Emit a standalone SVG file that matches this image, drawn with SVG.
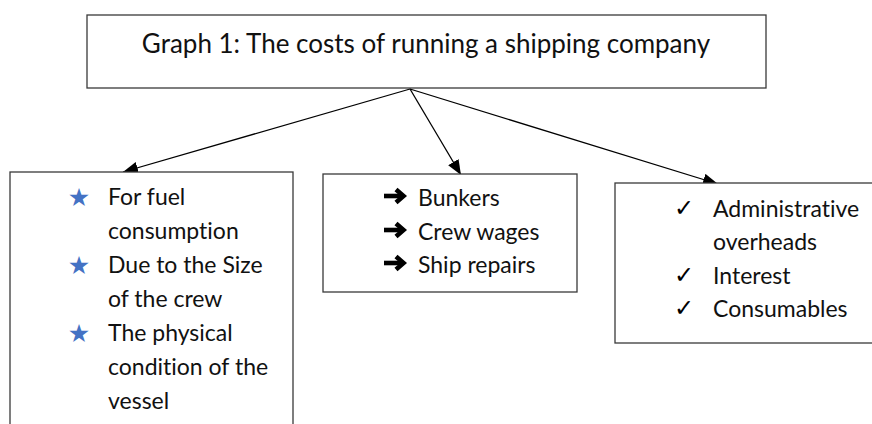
<svg xmlns="http://www.w3.org/2000/svg" width="872" height="424" viewBox="0 0 872 424">
  <style>
    .box { fill: #ffffff; stroke: #3a3a3a; stroke-width: 1.3; }
    .lbl { font-family: Lato, "Liberation Sans", sans-serif; font-size: 23px; fill: #111111; font-variant-ligatures: none; }
    .title { font-family: Lato, "Liberation Sans", sans-serif; font-size: 26px; fill: #111111; font-variant-ligatures: none; }
    .star { font-family: "DejaVu Sans", sans-serif; font-size: 25px; fill: #4472c4; }
    .chk { font-family: "DejaVu Sans", sans-serif; font-size: 24px; fill: #000000; font-weight: bold; }
    .edge { stroke: #000000; stroke-width: 1.3; fill: none; marker-end: url(#head); }
  </style>
  <defs>
    <marker id="head" markerUnits="userSpaceOnUse" markerWidth="16" markerHeight="12" refX="15" refY="6" orient="auto">
      <path d="M0,0 L15,6 L0,12 Z" fill="#000000"/>
    </marker>
    <!-- heavy right-pointing bullet arrow, origin at the left end of the shaft -->
    <g id="bullet-arrow" fill="none" stroke="#000000" stroke-width="4.6">
      <path d="M0,0 H19"/>
      <path d="M12,-6.5 L19.5,0 L12,6.5" stroke-linejoin="miter"/>
    </g>
  </defs>
  <rect width="872" height="424" fill="#ffffff"/>

  <g id="root">
    <rect class="box" x="87" y="15" width="679" height="73"/>
    <text class="title" x="426" y="53" text-anchor="middle">Graph 1: The costs of running a shipping company</text>
  </g>

  <g id="connectors">
    <line class="edge" x1="410" y1="89" x2="123" y2="172"/>
    <line class="edge" x1="410" y1="89" x2="461" y2="175"/>
    <line class="edge" x1="410" y1="89" x2="718" y2="184"/>
  </g>

  <g id="factors">
    <rect class="box" x="10" y="172" width="283" height="260"/>
    <text class="star" x="79" y="206" text-anchor="middle">★</text>
    <text class="star" x="79" y="274" text-anchor="middle">★</text>
    <text class="star" x="79" y="342" text-anchor="middle">★</text>
    <text class="lbl" x="108" y="205">For fuel</text>
    <text class="lbl" x="108" y="239">consumption</text>
    <text class="lbl" x="108" y="273">Due to the Size</text>
    <text class="lbl" x="108" y="307">of the crew</text>
    <text class="lbl" x="108" y="341">The physical</text>
    <text class="lbl" x="108" y="375">condition of the</text>
    <text class="lbl" x="108" y="409">vessel</text>
  </g>

  <g id="voyage-costs">
    <rect class="box" x="323" y="174" width="254" height="118"/>
    <use href="#bullet-arrow" x="384" y="196"/>
    <use href="#bullet-arrow" x="384" y="230"/>
    <use href="#bullet-arrow" x="384" y="263"/>
    <text class="lbl" x="418" y="206">Bunkers</text>
    <text class="lbl" x="418" y="240">Crew wages</text>
    <text class="lbl" x="418" y="273">Ship repairs</text>
  </g>

  <g id="fixed-costs">
    <rect class="box" x="615" y="183" width="262" height="160"/>
    <text class="chk" x="684" y="216" text-anchor="middle">✓</text>
    <text class="chk" x="684" y="283" text-anchor="middle">✓</text>
    <text class="chk" x="684" y="316" text-anchor="middle">✓</text>
    <text class="lbl" x="713" y="217">Administrative</text>
    <text class="lbl" x="713" y="250">overheads</text>
    <text class="lbl" x="713" y="284">Interest</text>
    <text class="lbl" x="713" y="317">Consumables</text>
  </g>
</svg>
